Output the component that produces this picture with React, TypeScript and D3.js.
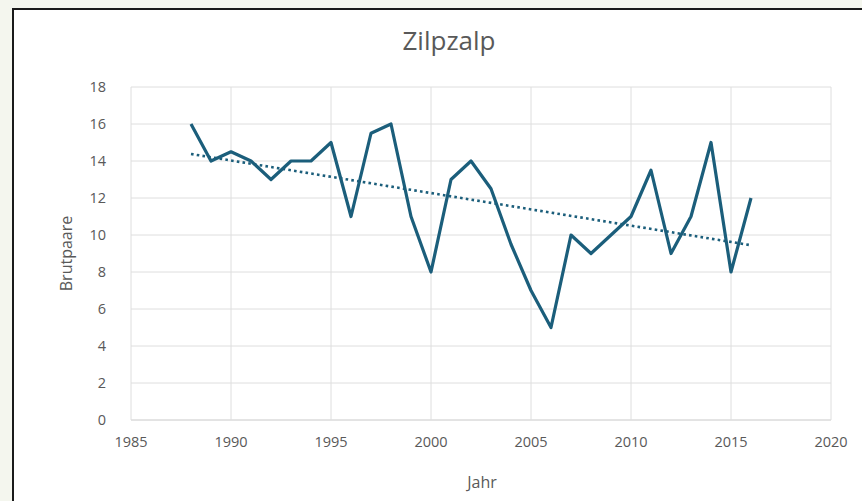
import React from 'react';
import * as d3 from 'd3';

// Brutpaare des Zilpzalps pro Jahr
const years = [1988, 1989, 1990, 1991, 1992, 1993, 1994, 1995, 1996, 1997, 1998, 1999, 2000, 2001, 2002,
  2003, 2004, 2005, 2006, 2007, 2008, 2009, 2010, 2011, 2012, 2013, 2014, 2015, 2016];
const pairs = [16, 14, 14.5, 14, 13, 14, 14, 15, 11, 15.5, 16, 11, 8, 13, 14,
  12.5, 9.5, 7, 5, 10, 9, 10, 11, 13.5, 9, 11, 15, 8, 12];
const xTicks = [1985, 1990, 1995, 2000, 2005, 2010, 2015, 2020];
const yTicks = [0, 2, 4, 6, 8, 10, 12, 14, 16, 18];

const title = 'Zilpzalp';
const xLabel = 'Jahr';
const yLabel = 'Brutpaare';

const W = 862;
const H = 501;
const margin = { top: 87, right: 31, bottom: 81, left: 131 };
const font = '"Open Sans", "DejaVu Sans", sans-serif';
const lineColor = '#1b5e7b';
const textColor = '#595959';

const App = () => {
  const x = d3.scaleLinear().domain([1985, 2020]).range([margin.left, W - margin.right]);
  const y = d3.scaleLinear().domain([0, 18]).range([H - margin.bottom, margin.top]);

  const points = years.map((yr, i) => [yr, pairs[i]] as [number, number]);
  const line = d3.line<[number, number]>().x(d => x(d[0])).y(d => y(d[1]));

  // linear trend (least squares)
  const mx = d3.mean(years)!;
  const my = d3.mean(pairs)!;
  const sxy = d3.sum(years, (yr, i) => (yr - mx) * (pairs[i] - my));
  const sxx = d3.sum(years, yr => (yr - mx) ** 2);
  const slope = sxy / sxx;
  const trend = (yr: number) => my + slope * (yr - mx);
  const first = years[0];
  const last = years[years.length - 1];

  return (
    <>
      <style>{'body{margin:0}'}</style>
      <svg width={W} height={H} style={{ display: 'block' }}>
        <rect x={0} y={0} width={W} height={H} fill="#f4f6ee" />
        <rect x={13} y={9} width={W + 10} height={H + 10} fill="#ffffff" stroke="#1a1a1a" strokeWidth={2} />

        <text x={449} y={50} textAnchor="middle" fontFamily={font} fontSize={26} fill={textColor}>{title}</text>

        {/* gridlines */}
        {yTicks.map(t => (
          <line key={'gy' + t} x1={margin.left} x2={W - margin.right} y1={y(t)} y2={y(t)}
            stroke={t === 0 ? '#c8c8c8' : '#dedede'} strokeWidth={1} />
        ))}
        {xTicks.map(t => (
          <line key={'gx' + t} x1={x(t)} x2={x(t)} y1={y(18)} y2={y(0)} stroke="#dedede" strokeWidth={1} />
        ))}

        {/* tick labels */}
        {yTicks.map(t => (
          <text key={'ly' + t} x={margin.left - 25} y={y(t)} dy="0.35em" textAnchor="end"
            fontFamily={font} fontSize={14.5} fill={textColor}>{t}</text>
        ))}
        {xTicks.map(t => (
          <text key={'lx' + t} x={x(t)} y={y(0) + 27} textAnchor="middle"
            fontFamily={font} fontSize={14.5} fill={textColor}>{t}</text>
        ))}

        <text x={482} y={488} textAnchor="middle" fontFamily={font} fontSize={16} fill={textColor}>{xLabel}</text>
        <text transform={`translate(72,${(y(0) + y(18)) / 2}) rotate(-90)`} textAnchor="middle"
          fontFamily={font} fontSize={16} fill={textColor}>{yLabel}</text>

        {/* trend */}
        <line x1={x(first)} y1={y(trend(first))} x2={x(last)} y2={y(trend(last))}
          stroke={lineColor} strokeWidth={2.6} strokeDasharray="2.6 3.2" />

        {/* series */}
        <path d={line(points) ?? ''} fill="none" stroke={lineColor} strokeWidth={3.2} strokeLinejoin="round" />
      </svg>
    </>
  );
};

export default App;
